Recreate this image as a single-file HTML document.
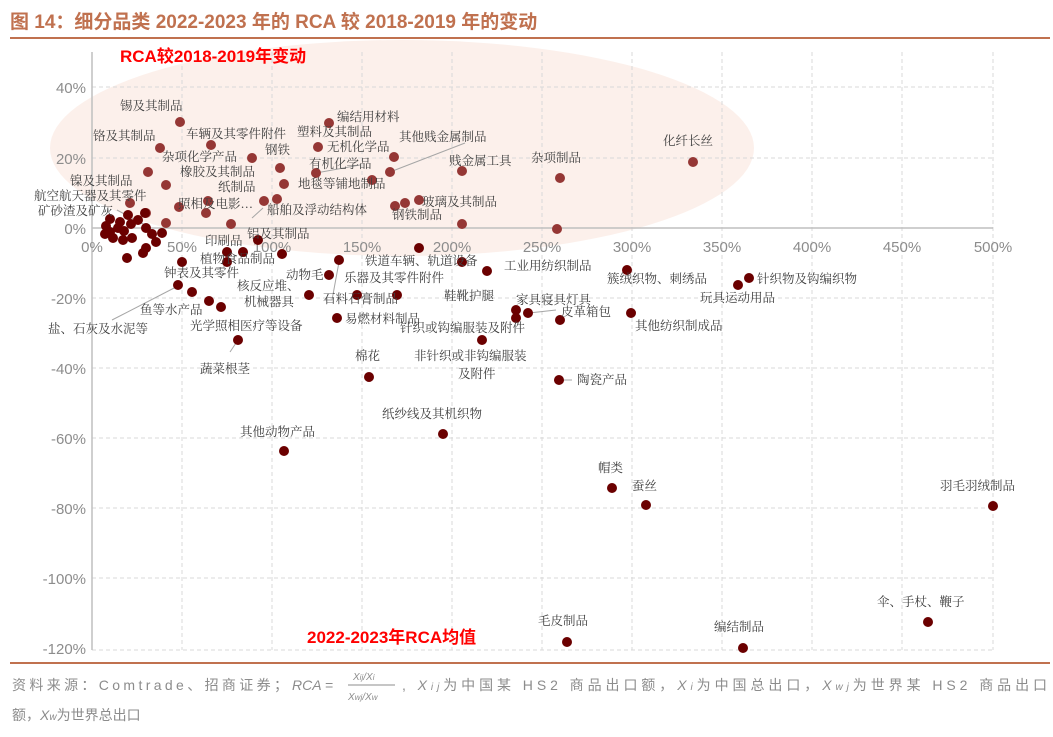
<!DOCTYPE html>
<html><head><meta charset="utf-8"><style>
body{margin:0;background:#fff;}
svg text{font-family:"Liberation Serif","Noto Serif CJK SC",serif;}
svg text.s, svg .s text{font-family:"Liberation Sans","Noto Sans CJK SC",sans-serif;}
</style></head><body>
<svg width="1053" height="732" xmlns="http://www.w3.org/2000/svg">
<text class="s" x="10" y="28" font-size="19" font-weight="bold" fill="#c0714f">图 14：细分品类 2022-2023 年的 RCA 较 2018-2019 年的变动</text>
<rect x="10" y="37" width="1040" height="2" fill="#c0714f"/>
<ellipse cx="402" cy="148" rx="352" ry="108" fill="#fcede8" opacity="0.85"/>
<g stroke="#d9d9d9" stroke-dasharray="4,3" stroke-width="1">
<line x1="182" y1="52" x2="182" y2="650"/><line x1="272" y1="52" x2="272" y2="650"/><line x1="362" y1="52" x2="362" y2="650"/><line x1="452" y1="52" x2="452" y2="650"/><line x1="542" y1="52" x2="542" y2="650"/><line x1="632" y1="52" x2="632" y2="650"/><line x1="722" y1="52" x2="722" y2="650"/><line x1="812" y1="52" x2="812" y2="650"/><line x1="902" y1="52" x2="902" y2="650"/><line x1="993" y1="52" x2="993" y2="650"/>
<line x1="92" y1="87" x2="993" y2="87"/><line x1="92" y1="158" x2="993" y2="158"/><line x1="92" y1="298" x2="993" y2="298"/><line x1="92" y1="368" x2="993" y2="368"/><line x1="92" y1="438" x2="993" y2="438"/><line x1="92" y1="508" x2="993" y2="508"/><line x1="92" y1="578" x2="993" y2="578"/><line x1="92" y1="650" x2="993" y2="650"/>
</g>
<line x1="92" y1="52" x2="92" y2="650" stroke="#bfbfbf" stroke-width="1.5"/>
<line x1="92" y1="228" x2="993" y2="228" stroke="#bfbfbf" stroke-width="1.5"/>
<g class="s" font-size="15" fill="#8c8c8c" text-anchor="end">
<text x="86" y="93">40%</text><text x="86" y="164">20%</text><text x="86" y="234">0%</text><text x="86" y="304">-20%</text><text x="86" y="374">-40%</text><text x="86" y="444">-60%</text><text x="86" y="514">-80%</text><text x="86" y="584">-100%</text><text x="86" y="654">-120%</text>
</g>
<g class="s" font-size="15" fill="#8c8c8c" text-anchor="middle">
<text x="92" y="252">0%</text><text x="182" y="252">50%</text><text x="272" y="252">100%</text><text x="362" y="252">150%</text><text x="452" y="252">200%</text><text x="542" y="252">250%</text><text x="632" y="252">300%</text><text x="722" y="252">350%</text><text x="812" y="252">400%</text><text x="902" y="252">450%</text><text x="993" y="252">500%</text>
</g>
<text class="s" x="120" y="62" font-size="17" font-weight="bold" fill="#ff0000">RCA较2018-2019年变动</text>
<text class="s" x="307" y="643" font-size="17" font-weight="bold" fill="#ff0000">2022-2023年RCA均值</text>
<g stroke="#a6a6a6" stroke-width="1" fill="none">
<polyline points="117,210 145,225"/><polyline points="263,208 252,218"/><polyline points="316,173 360,165"/><polyline points="390,172 465,143"/><polyline points="112,320 178,286"/><polyline points="325,300 332,300 339,262"/><polyline points="529,313 556,310"/><polyline points="564,380 572,380"/><polyline points="238,340 230,352"/>
</g>
<g fill="#953735">
<circle cx="180" cy="122" r="5"/><circle cx="160" cy="148" r="5"/><circle cx="211" cy="145" r="5"/><circle cx="252" cy="158" r="5"/><circle cx="148" cy="172" r="5"/><circle cx="166" cy="185" r="5"/><circle cx="280" cy="168" r="5"/><circle cx="284" cy="184" r="5"/><circle cx="130" cy="203" r="5"/><circle cx="146" cy="213" r="5"/><circle cx="179" cy="207" r="5"/><circle cx="206" cy="213" r="5"/><circle cx="277" cy="199" r="5"/><circle cx="231" cy="224" r="5"/><circle cx="208" cy="201" r="5"/><circle cx="329" cy="123" r="5"/><circle cx="318" cy="147" r="5"/><circle cx="316" cy="173" r="5"/><circle cx="394" cy="157" r="5"/><circle cx="372" cy="180" r="5"/><circle cx="390" cy="172" r="5"/><circle cx="462" cy="171" r="5"/><circle cx="560" cy="178" r="5"/><circle cx="693" cy="162" r="5"/><circle cx="395" cy="206" r="5"/><circle cx="405" cy="203" r="5"/><circle cx="419" cy="200" r="5"/><circle cx="462" cy="224" r="5"/><circle cx="557" cy="229" r="5"/><circle cx="264" cy="201" r="5"/><circle cx="166" cy="223" r="5"/>
</g>
<g fill="#6b0000">
<circle cx="110" cy="219" r="5"/><circle cx="120" cy="222" r="5"/><circle cx="128" cy="215" r="5"/><circle cx="131" cy="224" r="5"/><circle cx="138" cy="220" r="5"/><circle cx="110" cy="232" r="5"/><circle cx="105" cy="234" r="5"/><circle cx="113" cy="238" r="5"/><circle cx="123" cy="240" r="5"/><circle cx="132" cy="238" r="5"/><circle cx="145" cy="213" r="5"/><circle cx="146" cy="228" r="5"/><circle cx="152" cy="234" r="5"/><circle cx="156" cy="242" r="5"/><circle cx="146" cy="248" r="5"/><circle cx="143" cy="253" r="5"/><circle cx="127" cy="258" r="5"/><circle cx="162" cy="233" r="5"/><circle cx="106" cy="226" r="5"/><circle cx="124" cy="231" r="5"/><circle cx="118" cy="228" r="5"/>
<circle cx="227" cy="252" r="5"/><circle cx="227" cy="262" r="5"/><circle cx="282" cy="254" r="5"/><circle cx="258" cy="240" r="5"/><circle cx="182" cy="262" r="5"/><circle cx="178" cy="285" r="5"/><circle cx="192" cy="292" r="5"/><circle cx="209" cy="301" r="5"/><circle cx="221" cy="307" r="5"/><circle cx="238" cy="340" r="5"/><circle cx="243" cy="252" r="5"/><circle cx="309" cy="295" r="5"/><circle cx="329" cy="275" r="5"/><circle cx="339" cy="260" r="5"/><circle cx="357" cy="295" r="5"/><circle cx="397" cy="295" r="5"/><circle cx="337" cy="318" r="5"/><circle cx="419" cy="248" r="5"/><circle cx="462" cy="262" r="5"/><circle cx="487" cy="271" r="5"/><circle cx="369" cy="377" r="5"/><circle cx="443" cy="434" r="5"/><circle cx="284" cy="451" r="5"/><circle cx="516" cy="310" r="5"/><circle cx="516" cy="318" r="5"/><circle cx="528" cy="313" r="5"/><circle cx="560" cy="320" r="5"/><circle cx="482" cy="340" r="5"/><circle cx="559" cy="380" r="5"/><circle cx="627" cy="270" r="5"/><circle cx="631" cy="313" r="5"/><circle cx="738" cy="285" r="5"/><circle cx="749" cy="278" r="5"/><circle cx="612" cy="488" r="5"/><circle cx="646" cy="505" r="5"/><circle cx="993" cy="506" r="5"/><circle cx="928" cy="622" r="5"/><circle cx="567" cy="642" r="5"/><circle cx="743" cy="648" r="5"/>
</g>
<g font-size="12.5" fill="#404040">
<text x="120" y="110">锡及其制品</text><text x="93" y="140">铬及其制品</text><text x="186" y="138">车辆及其零件附件</text><text x="162" y="161">杂项化学产品</text><text x="265" y="154">钢铁</text><text x="180" y="176">橡胶及其制品</text><text x="218" y="191">纸制品</text><text x="70" y="185">镍及其制品</text><text x="34" y="200">航空航天器及其零件</text><text x="38" y="215">矿砂渣及矿灰</text><text x="178" y="208">照相及电影…</text><text x="267" y="214">船舶及浮动结构体</text>
<text x="337" y="121">编结用材料</text><text x="297" y="136">塑料及其制品</text><text x="327" y="151">无机化学品</text><text x="309" y="168">有机化学品</text><text x="298" y="188">地毯等铺地制品</text><text x="399" y="141">其他贱金属制品</text><text x="449" y="165">贱金属工具</text><text x="531" y="162">杂项制品</text><text x="663" y="145">化纤长丝</text><text x="422" y="206">玻璃及其制品</text><text x="392" y="219">钢铁制品</text>
<text x="205" y="245">印刷品</text><text x="247" y="238">铝及其制品</text><text x="200" y="263">植物食品制品</text><text x="164" y="277">钟表及其零件</text><text x="286" y="279">动物毛</text><text x="237" y="290">核反应堆、</text><text x="244" y="306">机械器具</text><text x="365" y="265">铁道车辆、轨道设备</text><text x="344" y="282">乐器及其零件附件</text><text x="323" y="303">石料石膏制品</text><text x="504" y="270">工业用纺织制品</text><text x="444" y="300">鞋靴护腿</text><text x="516" y="304">家具寝具灯具</text><text x="561" y="316">皮革箱包</text><text x="345" y="323">易燃材料制品</text><text x="400" y="332">针织或钩编服装及附件</text><text x="140" y="314">鱼等水产品</text><text x="48" y="333">盐、石灰及水泥等</text><text x="190" y="330">光学照相医疗等设备</text><text x="200" y="373">蔬菜根茎</text><text x="355" y="360">棉花</text><text x="414" y="360">非针织或非钩编服装</text><text x="458" y="378">及附件</text><text x="577" y="384">陶瓷产品</text><text x="607" y="283">簇绒织物、刺绣品</text><text x="757" y="283">针织物及钩编织物</text><text x="700" y="302">玩具运动用品</text><text x="635" y="330">其他纺织制成品</text><text x="382" y="418">纸纱线及其机织物</text><text x="240" y="436">其他动物产品</text><text x="598" y="472">帽类</text><text x="632" y="490">蚕丝</text><text x="940" y="490">羽毛羽绒制品</text><text x="877" y="606">伞、手杖、鞭子</text><text x="538" y="625">毛皮制品</text><text x="714" y="631">编结制品</text>
</g>
<rect x="10" y="662" width="1040" height="2" fill="#c0714f"/>
<g class="s" font-size="14" fill="#8c8c8c">
<text x="12" y="690" textLength="276">资料来源：Comtrade、招商证券；</text>
<text x="292" y="690" font-style="italic" font-family="Liberation Serif">RCA =</text>
<text x="353" y="680" font-size="10" font-style="italic" font-family="Liberation Serif">X<tspan font-size="8">ij</tspan>/X<tspan font-size="8">i</tspan></text>
<line x1="348" y1="685" x2="395" y2="685" stroke="#8c8c8c"/>
<text x="348" y="700" font-size="10" font-style="italic" font-family="Liberation Serif">X<tspan font-size="8">wj</tspan>/X<tspan font-size="8">w</tspan></text>
<text x="402" y="690" textLength="645">, <tspan font-style="italic">X<tspan font-size="10">ij</tspan></tspan>为中国某 HS2 商品出口额，<tspan font-style="italic">X<tspan font-size="10">i</tspan></tspan>为中国总出口，<tspan font-style="italic">X<tspan font-size="10">wj</tspan></tspan>为世界某 HS2 商品出口</text>
<text x="12" y="720">额，<tspan font-style="italic">X<tspan font-size="10">w</tspan></tspan>为世界总出口</text>
</g>
</svg>
</body></html>
